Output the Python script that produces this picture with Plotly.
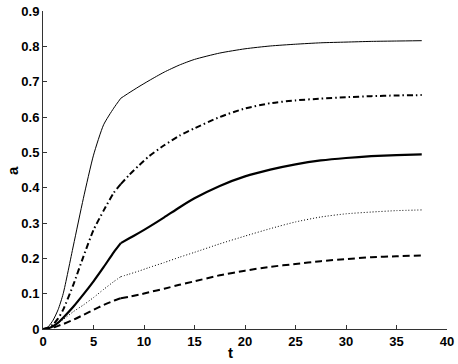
import plotly.graph_objects as go

# ── data ─────────────────────────────────────────────
t = [0, 0.5, 1, 1.5, 2, 3, 4, 5, 6, 7, 7.7, 8.5, 9.5, 10.5, 12, 13.5, 15,
     17.5, 20, 22.5, 25, 27.5, 30, 32.5, 35, 37.5]
KINK = 10  # index of t = 7.7, where every curve bends

a_thin = [0, 0.006, 0.025, 0.055, 0.10, 0.235, 0.37, 0.492, 0.578, 0.625, 0.653,
          0.668, 0.686, 0.703, 0.727, 0.747, 0.763, 0.781, 0.793, 0.801, 0.806,
          0.810, 0.812, 0.814, 0.815, 0.816]
a_dashdot = [0, 0.003, 0.013, 0.03, 0.055, 0.125, 0.205, 0.28, 0.335, 0.385, 0.41,
             0.435, 0.463, 0.489, 0.52, 0.547, 0.568, 0.600, 0.624, 0.639, 0.647,
             0.652, 0.656, 0.659, 0.661, 0.662]
a_thick = [0, 0.002, 0.008, 0.018, 0.032, 0.063, 0.098, 0.135, 0.175, 0.217, 0.243,
           0.256, 0.272, 0.289, 0.316, 0.344, 0.37, 0.405, 0.432, 0.451, 0.466,
           0.477, 0.484, 0.489, 0.492, 0.494]
a_dotted = [0, 0.003, 0.009, 0.017, 0.027, 0.049, 0.068, 0.089, 0.112, 0.134, 0.148,
            0.155, 0.164, 0.174, 0.188, 0.203, 0.217, 0.241, 0.263, 0.284, 0.303,
            0.317, 0.326, 0.331, 0.335, 0.337]
a_dashed = [0, 0.001, 0.004, 0.009, 0.014, 0.026, 0.04, 0.054, 0.068, 0.08, 0.087,
            0.091, 0.097, 0.104, 0.114, 0.125, 0.135, 0.152, 0.165, 0.176, 0.184,
            0.192, 0.198, 0.203, 0.206, 0.208]

x_ticks = [0, 5, 10, 15, 20, 25, 30, 35, 40]
y_ticks = [0, 0.1, 0.2, 0.3, 0.4, 0.5, 0.6, 0.7, 0.8, 0.9]

# ── figure ───────────────────────────────────────────
series = [
    (a_thin, 1, "solid"),
    (a_dashdot, 2, "6px,3px,1.5px,3px"),
    (a_thick, 2.2, "solid"),
    (a_dotted, 1, "1px,2px"),
    (a_dashed, 2, "7px,4px"),
]

fig = go.Figure()
for ys, w, dash in series:
    # two smooth pieces so the bend at the kink stays sharp
    for sl in (slice(0, KINK + 1), slice(KINK, None)):
        fig.add_trace(go.Scatter(x=t[sl], y=ys[sl], mode="lines",
                                 line=dict(color="black", width=w, dash=dash,
                                           shape="spline", smoothing=0.6),
                                 showlegend=False))

FONT = "Liberation Sans, Arial, sans-serif"
axis_font = dict(family=FONT, size=13, color="black", weight="bold")
common = dict(showgrid=False, zeroline=False, showline=True, linecolor="#333333",
              linewidth=1, ticks="inside", ticklen=4, tickcolor="#333333",
              tickfont=axis_font, mirror=False, automargin=False)

fig.update_xaxes(range=[0, 40], tickvals=x_ticks, **common)
fig.update_yaxes(range=[0, 0.9], tickvals=y_ticks, **common)

title_font = dict(family=FONT, size=15, color="black", weight="bold")
fig.add_annotation(text="t", xref="paper", yref="paper", x=0.465, y=-0.075,
                   xanchor="center", yanchor="middle", showarrow=False,
                   font=title_font)
fig.add_annotation(text="a", xref="paper", yref="paper", x=-0.077, y=0.5,
                   xanchor="center", yanchor="middle", showarrow=False,
                   textangle=-90, font=title_font)

fig.update_layout(width=458, height=364, paper_bgcolor="white",
                  plot_bgcolor="white",
                  margin=dict(l=43, r=11, t=11, b=35))

# drop the page's default body margin so the figure sits at the top-left corner
fig.write_html("out.html", config={"displayModeBar": False},
               post_script="document.body.style.margin='0';"
                           "document.body.style.overflow='hidden';")
